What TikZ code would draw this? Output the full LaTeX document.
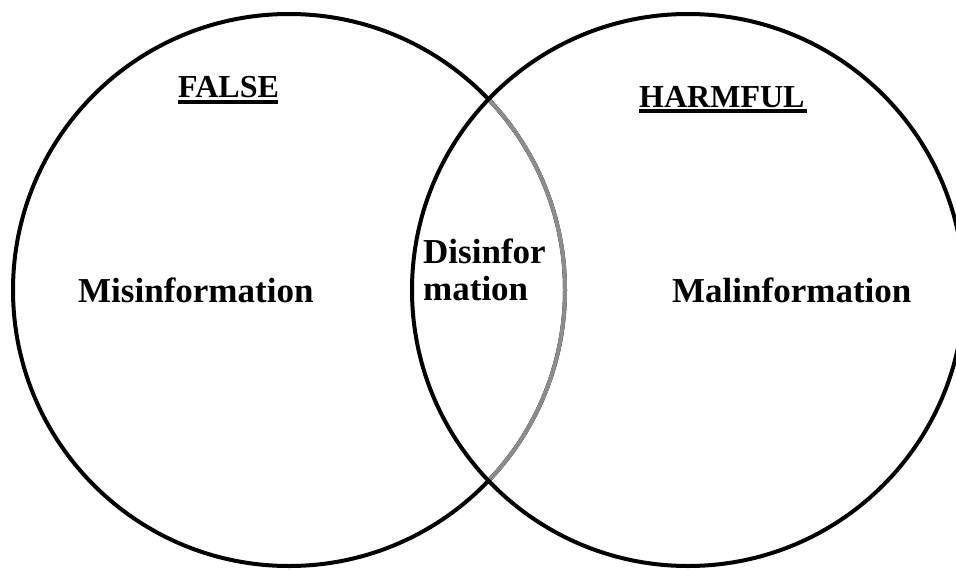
\documentclass[tikz,border=0pt]{standalone}
\usepackage{fontspec}
\setmainfont{Liberation Serif}
\usepackage{xcolor}
\definecolor{vennblack}{RGB}{0,0,0}
\definecolor{venngray}{RGB}{140,140,140}

\tikzset{
  setcircle/.style={circle, draw=vennblack, line width=4pt, inner sep=0pt, minimum size=552pt},
  setlabel/.style={font=\fontsize{32}{37}\selectfont\bfseries, anchor=base west, inner sep=0pt},
  areatext/.style={font=\fontsize{35}{37}\selectfont\bfseries, anchor=base west, inner sep=0pt, align=left}
}

\begin{document}
\begin{tikzpicture}[x=1pt, y=-1pt]
    % Canvas
    \clip (0,0) rectangle (956,570);
    \fill[white] (0,0) rectangle (956,570);

    % Left set
    \node[setcircle] (falseset) at (289,290) {};

    % Overlap part of the left circle in gray
    \begin{scope}
        \clip (689,290) circle (276);
        \draw[venngray, line width=4pt] (falseset.center) circle (276);
    \end{scope}

    % Right set
    \node[setcircle] (harmset) at (688,290) {};

    % Headings
    \node[setlabel] (falsehead) at (178,97) {FALSE};
    \draw[line width=3.5pt] (falsehead.base west) ++(0,5) -- ++(100,0);
    \node[setlabel] (harmhead) at (639,107) {HARMFUL};
    \draw[line width=3.5pt] (harmhead.base west) ++(0,4) -- ++(168,0);

    % Areas
    \node[areatext] (misinfo) at (78,302) {Misinformation};
    \node[areatext] (disinfo) at (423,300) {Disinfor\\mation};
    \node[areatext] (malinfo) at (672,302) {Malinformation};
\end{tikzpicture}
\end{document}
